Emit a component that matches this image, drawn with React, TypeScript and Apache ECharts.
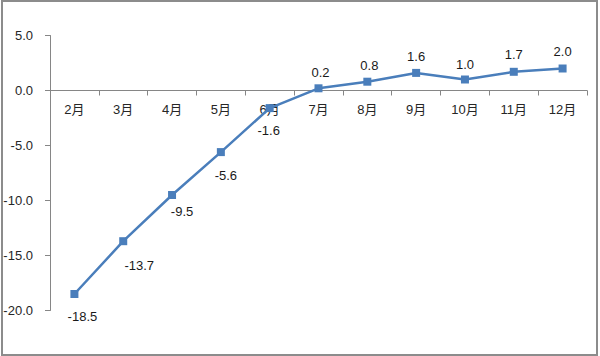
import React, { useEffect, useRef } from "react";
import * as echarts from "echarts";

const categories = ["2月", "3月", "4月", "5月", "6月", "7月", "8月", "9月", "10月", "11月", "12月"];
const values = [-18.5, -13.7, -9.5, -5.6, -1.6, 0.2, 0.8, 1.6, 1.0, 1.7, 2.0];
const yTicks = { min: -20, max: 5, interval: 5 };

// label placement (styling only)
const labelOffsets: [number, number][] = [
  [8, 22], [16, 24], [10, 16], [5, 23], [-1, 22],
  [2, -16], [2, -16], [0, -16], [0, -15], [0, -17], [0, -17],
];

const FONT = "'Liberation Sans', Arial, 'Noto Sans CJK SC', sans-serif";
const GRID_TOP = 35.5;
const GRID_BOTTOM = 45.5;
const CHART_H = 356;

export default function App() {
  const ref = useRef<HTMLDivElement>(null);
  useEffect(() => {
    if (!ref.current) return;
    const chart = echarts.init(ref.current, undefined, { renderer: "svg" });
    // shift the category axis up to the zero line of the value axis
    const plotH = CHART_H - GRID_TOP - GRID_BOTTOM;
    const zeroFromBottom = ((0 - yTicks.min) / (yTicks.max - yTicks.min)) * plotH;
    chart.setOption({
      animation: false,
      backgroundColor: "#ffffff",
      grid: { left: 50, right: 13, top: GRID_TOP, bottom: GRID_BOTTOM, containLabel: false },
      xAxis: {
        type: "category",
        data: categories,
        boundaryGap: true,
        position: "bottom",
        offset: -zeroFromBottom,
        axisLine: { onZero: false, lineStyle: { color: "#868686", width: 1 } },
        axisTick: { show: true, length: 5, lineStyle: { color: "#868686" } },
        axisLabel: { margin: 12, color: "#262626", fontSize: 13, fontFamily: FONT },
        splitLine: { show: false },
      },
      yAxis: {
        type: "value",
        min: yTicks.min,
        max: yTicks.max,
        interval: yTicks.interval,
        axisLine: { show: true, lineStyle: { color: "#868686", width: 1 } },
        axisTick: { show: true, length: 5, lineStyle: { color: "#868686" } },
        axisLabel: {
          margin: 17,
          color: "#262626",
          fontSize: 13,
          fontFamily: FONT,
          formatter: (v: number) => v.toFixed(1),
        },
        splitLine: { show: false },
      },
      series: [
        {
          type: "line",
          data: values.map((v, i) => ({
            value: v,
            label: { offset: labelOffsets[i] },
          })),
          symbol: "rect",
          symbolSize: 8,
          lineStyle: { color: "#4A7EBB", width: 2.5 },
          itemStyle: { color: "#4A7EBB" },
          label: {
            show: true,
            position: "inside",
            color: "#1a1a1a",
            fontSize: 13,
            fontFamily: FONT,
            formatter: (p: any) => Number(p.value).toFixed(1),
          },
        },
      ],
    });
    return () => chart.dispose();
  }, []);
  return (
    <div style={{ position: "fixed", left: 0, top: 0, width: 600, height: 356, background: "#fff" }}>
      <div ref={ref} style={{ position: "absolute", left: 0, top: 0, width: 600, height: 356 }} />
      <div
        style={{
          position: "absolute",
          left: 1,
          top: 0,
          width: 597,
          height: 356,
          boxSizing: "border-box",
          border: "2px solid #8c8c8c",
          pointerEvents: "none",
        }}
      />
    </div>
  );
}
